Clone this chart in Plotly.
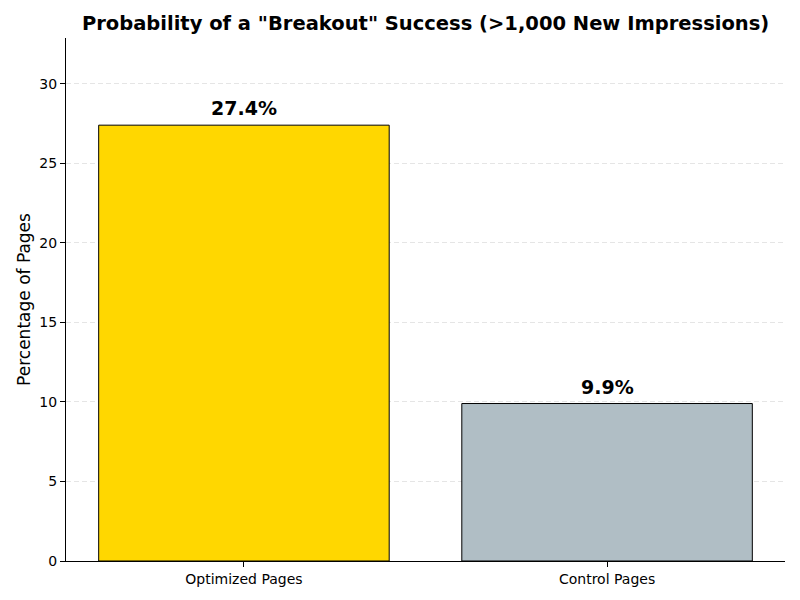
import plotly.graph_objects as go

categories = ["Optimized Pages", "Control Pages"]
percentages = [27.4, 9.9]
bar_colors = ["#FFD700", "#B0BEC5"]
y_ticks = [0, 5, 10, 15, 20, 25, 30]

FONT = "DejaVu Sans"

fig = go.Figure()
fig.add_trace(go.Bar(
    x=categories, y=percentages, width=0.8,
    marker=dict(color=bar_colors, line=dict(color="black", width=1)),
    hoverinfo="x+y",
))

# value labels above the bars
for cat, val in zip(categories, percentages):
    fig.add_annotation(x=cat, y=val, text="<b>%.1f%%</b>" % val, showarrow=False,
                       yanchor="bottom", yshift=4,
                       font=dict(family=FONT, size=19, color="black"))

# page body adds ~8px offset, margins compensate for it
fig.update_layout(
    width=800, height=600,
    paper_bgcolor="white", plot_bgcolor="white",
    margin=dict(l=58, r=23, t=30, b=47),
    showlegend=False,
    font=dict(family=FONT, size=14, color="black"),
    title=dict(text='<b>Probability of a "Breakout" Success (>1,000 New Impressions)</b>',
               x=0.522, xanchor="center", y=0.975, yanchor="middle",
               font=dict(family=FONT, size=19.5, color="black")),
    xaxis=dict(range=[-0.49, 1.49], showline=True, linecolor="black", linewidth=1,
               ticks="outside", ticklen=5, tickcolor="black", showgrid=False,
               tickfont=dict(size=14)),
    yaxis=dict(range=[0, max(percentages) * 1.2], tickvals=y_ticks,
               showline=True, linecolor="black", linewidth=1,
               ticks="outside", ticklen=5, tickcolor="black",
               showgrid=True, gridcolor="rgba(0,0,0,0.1)", griddash="5px,3px", gridwidth=1,
               zeroline=False, tickfont=dict(size=14),
               title=dict(text="Percentage of Pages", font=dict(size=17), standoff=4)),
)

fig.write_html("out.html")
